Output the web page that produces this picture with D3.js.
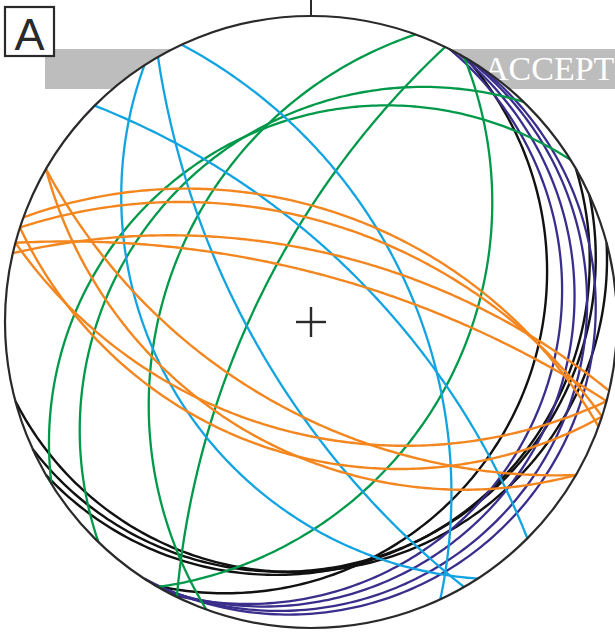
<!DOCTYPE html>
<html>
<head>
<meta charset="utf-8">
<script src="https://cdn.jsdelivr.net/npm/d3@7"></script>
<style>
  html, body { margin: 0; padding: 0; background: #fff; }
  svg { display: block; }
</style>
</head>
<body>
<div id="net"></div>
<script>
// planes: dip direction and dip (degrees), lower hemisphere
var blackDipDir  = [120.5, 150, 155.5, 165];
var blackDip     = [18, 13, 13, 12];
var purpleDipDir = [117, 119, 121, 123];
var purpleDip    = [13, 10, 7, 5];
var blueDipDir   = [237, 240, 65, 45];
var blueDip      = [37, 68.5, 53, 66.5];
var greenDipDir  = [120, 296, 290, 314, 328];
var greenDip     = [38, 69, 38.5, 27, 25];
var orangeDipDir = [20, 18, 13, 15, 210, 210, 198, 195];
var orangeDip    = [50, 54, 64, 72, 58, 45, 43, 50];

var panelLabel = "A";
var bannerText = "ACCEPT";

var width = 615, height = 632;
var cx = 311, cy = 322, R = 306;

var svg = d3.select("#net").append("svg")
    .attr("width", width)
    .attr("height", height);

var x = d3.scaleLinear().domain([-1, 1]).range([cx - R, cx + R]);
var y = d3.scaleLinear().domain([-1, 1]).range([cy + R, cy - R]);

var rad = Math.PI / 180;

// great circle of a plane, stereographic (equal angle) projection
function greatCircle(dd, dip) {
    var pts = [];
    var s = (dd - 90) * rad, d = dd * rad, del = dip * rad;
    var sE = Math.sin(s), sN = Math.cos(s);
    var dE = Math.sin(d) * Math.cos(del), dN = Math.cos(d) * Math.cos(del);
    for (var i = 0; i <= 180; i++) {
        var r = i * rad;
        var vE = Math.cos(r) * sE + Math.sin(r) * dE;
        var vN = Math.cos(r) * sN + Math.sin(r) * dN;
        var plunge = Math.asin(Math.sin(r) * Math.sin(del));
        var trend = Math.atan2(vE, vN);
        var rho = Math.tan((Math.PI / 2 - plunge) / 2);
        pts.push([rho * Math.sin(trend), rho * Math.cos(trend)]);
    }
    return pts;
}

var line = d3.line()
    .x(function(p) { return x(p[0]); })
    .y(function(p) { return y(p[1]); });

// grey banner sits behind the white net
svg.append("rect")
    .attr("x", 45).attr("y", 49)
    .attr("width", width - 45).attr("height", 40)
    .attr("fill", "#bdbdbd");

svg.append("text")
    .attr("x", 484).attr("y", 80)
    .attr("font-family", "'Liberation Serif', 'Times New Roman', serif")
    .attr("font-size", 34)
    .attr("fill", "#fff")
    .text(bannerText);

svg.append("circle")
    .attr("cx", x(0)).attr("cy", y(0)).attr("r", x(1) - x(0))
    .attr("fill", "#fff");

function drawSet(dds, dips, color, w) {
    var data = dds.map(function(dd, i) { return greatCircle(dd, dips[i]); });
    svg.append("g").selectAll("path")
        .data(data)
        .enter().append("path")
        .attr("d", line)
        .attr("fill", "none")
        .attr("stroke", color)
        .attr("stroke-width", w);
}

drawSet(blackDipDir, blackDip, "#111111", 2.4);
drawSet(purpleDipDir, purpleDip, "#3a2e8c", 2.3);
drawSet(greenDipDir, greenDip, "#00994a", 2.3);
drawSet(blueDipDir, blueDip, "#12a4e0", 2.3);
drawSet(orangeDipDir, orangeDip, "#f4861f", 2.4);

// primitive circle, north tick and centre cross
svg.append("circle")
    .attr("cx", x(0)).attr("cy", y(0)).attr("r", x(1) - x(0))
    .attr("fill", "none")
    .attr("stroke", "#2a2a2a")
    .attr("stroke-width", 2.2);

svg.append("line")
    .attr("x1", x(0)).attr("x2", x(0))
    .attr("y1", 0).attr("y2", y(1))
    .attr("stroke", "#2a2a2a").attr("stroke-width", 2);

var c = 15 / R;
svg.append("line")
    .attr("x1", x(-c)).attr("x2", x(c)).attr("y1", y(0)).attr("y2", y(0))
    .attr("stroke", "#2a2a2a").attr("stroke-width", 2.4);
svg.append("line")
    .attr("x1", x(0)).attr("x2", x(0)).attr("y1", y(-c)).attr("y2", y(c))
    .attr("stroke", "#2a2a2a").attr("stroke-width", 2.4);

// panel letter
svg.append("rect")
    .attr("x", 5).attr("y", 7).attr("width", 49).attr("height", 49)
    .attr("fill", "#fff")
    .attr("stroke", "#2a2a2a").attr("stroke-width", 2.2);

svg.append("text")
    .attr("x", 29.5).attr("y", 50)
    .attr("text-anchor", "middle")
    .attr("font-family", "'Liberation Sans', Arial, sans-serif")
    .attr("font-size", 45)
    .attr("fill", "#2a2a2a")
    .text(panelLabel);
</script>
</body>
</html>
